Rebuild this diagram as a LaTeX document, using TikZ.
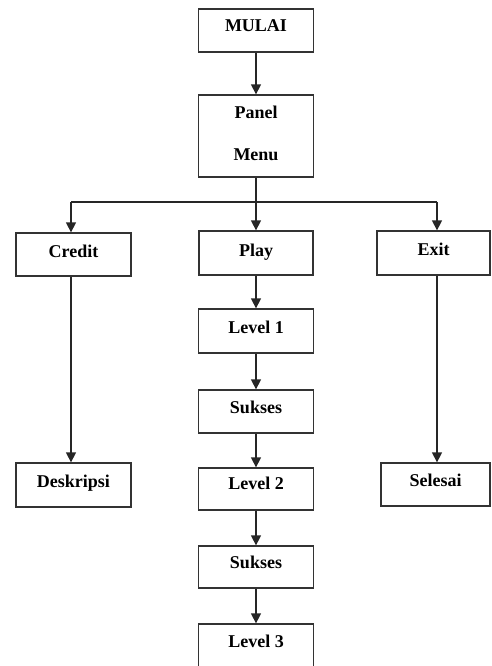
\documentclass[tikz,border=0pt]{standalone}
\usepackage{fontspec}
\setmainfont{Liberation Serif}
\usetikzlibrary{arrows.meta}
\begin{document}
\begin{tikzpicture}[x=1pt,y=-1pt,
  box/.style={draw=black!80, line width=1.3pt, rectangle, inner sep=0pt},
  lbl/.style={anchor=base, font=\fontsize{18}{20}\selectfont\bfseries, inner sep=0pt},
  conn/.style={draw=black!85, line width=1.4pt},
  arr/.style={conn, -{Triangle[length=10pt,width=10pt]}}]
\fill[white] (0,0) rectangle (491,666);
\useasboundingbox (0,0) rectangle (491,666);
% boxes
\node[box, minimum width=115pt, minimum height=43pt] (mulai) at (256,30.5) {};
\node[box, minimum width=115pt, minimum height=82pt] (panel) at (256,136) {};
\node[box, minimum width=115pt, minimum height=43pt] (credit) at (73.5,254.5) {};
\node[box, minimum width=114pt, minimum height=44pt] (play) at (256,253) {};
\node[box, minimum width=113pt, minimum height=44pt] (exit) at (433.5,253) {};
\node[box, minimum width=115pt, minimum height=44pt] (level1) at (256,331) {};
\node[box, minimum width=115pt, minimum height=43pt] (sukses1) at (256,411.5) {};
\node[box, minimum width=115pt, minimum height=42pt] (level2) at (256,489) {};
\node[box, minimum width=115pt, minimum height=42pt] (sukses2) at (256,567) {};
\node[box, minimum width=115pt, minimum height=44pt] (level3) at (256,646) {};
\node[box, minimum width=115pt, minimum height=44pt] (deskripsi) at (73.5,485) {};
\node[box, minimum width=109pt, minimum height=43pt] (selesai) at (435.5,484.5) {};
% labels
\node[lbl] (tmulai) at (256,32) {MULAI};
\node[lbl] (tpanel) at (256,119) {Panel};
\node[lbl] (tmenu) at (256,160.5) {Menu};
\node[lbl] (tcredit) at (73.5,257.5) {Credit};
\node[lbl] (tplay) at (256,256) {Play};
\node[lbl] (texit) at (433.5,255.5) {Exit};
\node[lbl] (tlevel1) at (256,333) {Level 1};
\node[lbl] (tsukses1) at (256,413) {Sukses};
\node[lbl] (tlevel2) at (256,489.5) {Level 2};
\node[lbl] (tsukses2) at (256,568) {Sukses};
\node[lbl] (tlevel3) at (256,647) {Level 3};
\node[lbl] (tdeskripsi) at (73.5,487) {Deskripsi};
\node[lbl] (tselesai) at (435.5,486) {Selesai};
% connectors
\coordinate (split) at (256,202);
\coordinate (lft) at (71,202);
\coordinate (rgt) at (437,202);
\draw[arr] (mulai.south) -- (mulai.south |- panel.north);
\draw[conn] (panel.south) -- (panel.south |- split);
\draw[conn] (lft) -- (rgt);
\draw[arr] (lft) -- (lft |- credit.north);
\draw[arr] (split) -- (split |- play.north);
\draw[arr] (rgt) -- (rgt |- exit.north);
\draw[arr] (lft |- credit.south) -- (lft |- deskripsi.north);
\draw[arr] (rgt |- exit.south) -- (rgt |- selesai.north);
\draw[arr] (play.south) -- (play.south |- level1.north);
\draw[arr] (level1.south) -- (level1.south |- sukses1.north);
\draw[arr] (sukses1.south) -- (sukses1.south |- level2.north);
\draw[arr] (level2.south) -- (level2.south |- sukses2.north);
\draw[arr] (sukses2.south) -- (sukses2.south |- level3.north);
\end{tikzpicture}
\end{document}
